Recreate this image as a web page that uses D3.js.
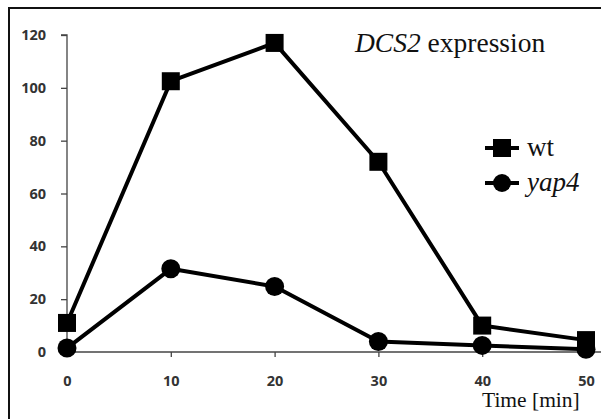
<!DOCTYPE html>
<html lang="en">
<head>
    <meta charset="UTF-8">
    <title>DCS2 expression</title>
    <script src="https://d3js.org/d3.v7.min.js"></script>
    <style>
        body { margin: 0; background: white; }
        svg { display: block; }
        .serif { font-family: "Liberation Serif", "Times New Roman", serif; fill: #111; }
    </style>
</head>
<body>
    <svg></svg>
    <script>
        // values
        const times = [0, 10, 20, 30, 40, 50];
        const wtValues = [11, 102.5, 117, 72, 10, 4.5];
        const yap4Values = [1.5, 31.5, 24.8, 4, 2.5, 1];
        const xTicks = [0, 10, 20, 30, 40, 50];
        const yTicks = [0, 20, 40, 60, 80, 100, 120];

        const width = 601, height = 419;
        const svg = d3.select("svg").attr("width", width).attr("height", height);

        // frame (only top and left edges visible)
        svg.append("path")
            .attr("d", "M9,419 V8 H601")
            .attr("fill", "none")
            .attr("stroke", "#111")
            .attr("stroke-width", 2);

        const x = d3.scaleLinear().domain([0, 50]).range([67, 586]);
        const y = d3.scaleLinear().domain([0, 120]).range([352, 35]);

        function styleAxis(g) {
            g.selectAll(".tick text")
                .style("font-family", "'Open Sans', sans-serif")
                .style("font-weight", "bold")
                .style("font-size", "14.5px")
                .style("fill", "#333");
            g.selectAll(".tick line").attr("stroke", "#444").attr("stroke-width", 1.3);
            g.selectAll(".tick").filter(d => d === 0).select("line").remove();
        }

        // y axis
        const yAxis = svg.append("g")
            .attr("transform", `translate(${x(0)},0)`)
            .call(d3.axisLeft(y).tickValues(yTicks).tickSize(6).tickPadding(15))
            .call(styleAxis);
        yAxis.select(".domain").attr("stroke", "#444").attr("stroke-width", 1.3).attr("d", `M-6,${y(120)}H0V${y(0)}`);

        // x axis
        const xAxis = svg.append("g")
            .attr("transform", `translate(0,${y(0)})`)
            .call(d3.axisBottom(x).tickValues(xTicks).tickSize(5).tickPadding(19))
            .call(styleAxis);
        xAxis.select(".domain").attr("stroke", "#444").attr("stroke-width", 1.3).attr("d", `M${x(0)},0H601`);

        const line = d3.line().x((d, i) => x(times[i])).y(d => y(d));

        const series = [
            { name: "wt", values: wtValues, shape: "square" },
            { name: "yap4", values: yap4Values, shape: "circle" }
        ];

        series.forEach(s => {
            svg.append("path")
                .datum(s.values)
                .attr("d", line)
                .attr("fill", "none")
                .attr("stroke", "#000")
                .attr("stroke-width", 4)
                .attr("stroke-linejoin", "round");
        });

        // markers
        svg.selectAll(".sq").data(wtValues).join("rect")
            .attr("x", (d, i) => x(times[i]) - 9)
            .attr("y", d => y(d) - 9)
            .attr("width", 18).attr("height", 18)
            .attr("fill", "#000");

        svg.selectAll(".dot").data(yap4Values).join("circle")
            .attr("cx", (d, i) => x(times[i]))
            .attr("cy", d => y(d))
            .attr("r", 9.5)
            .attr("fill", "#000");

        // title
        svg.append("text").attr("class", "serif")
            .attr("x", 355).attr("y", 52)
            .attr("font-size", 27.5)
            .html('<tspan font-style="italic">DCS2</tspan> expression');

        // legend
        const legend = svg.append("g").attr("transform", "translate(485,0)");
        const legY = [148, 183];
        series.forEach((s, i) => {
            legend.append("line")
                .attr("x1", 0).attr("x2", 34)
                .attr("y1", legY[i]).attr("y2", legY[i])
                .attr("stroke", "#000").attr("stroke-width", 4);
            if (s.shape === "square") {
                legend.append("rect").attr("x", 8).attr("y", legY[i] - 9)
                    .attr("width", 18).attr("height", 18).attr("fill", "#000");
            } else {
                legend.append("circle").attr("cx", 17).attr("cy", legY[i])
                    .attr("r", 9).attr("fill", "#000");
            }
            legend.append("text").attr("class", "serif")
                .attr("x", 42).attr("y", legY[i] + 8)
                .attr("font-size", 27)
                .attr("font-style", s.name === "yap4" ? "italic" : "normal")
                .text(s.name);
        });

        // x axis title
        svg.append("text").attr("class", "serif")
            .attr("x", 482).attr("y", 407)
            .attr("font-size", 21.5)
            .text("Time [min]");
    </script>
</body>
</html>
